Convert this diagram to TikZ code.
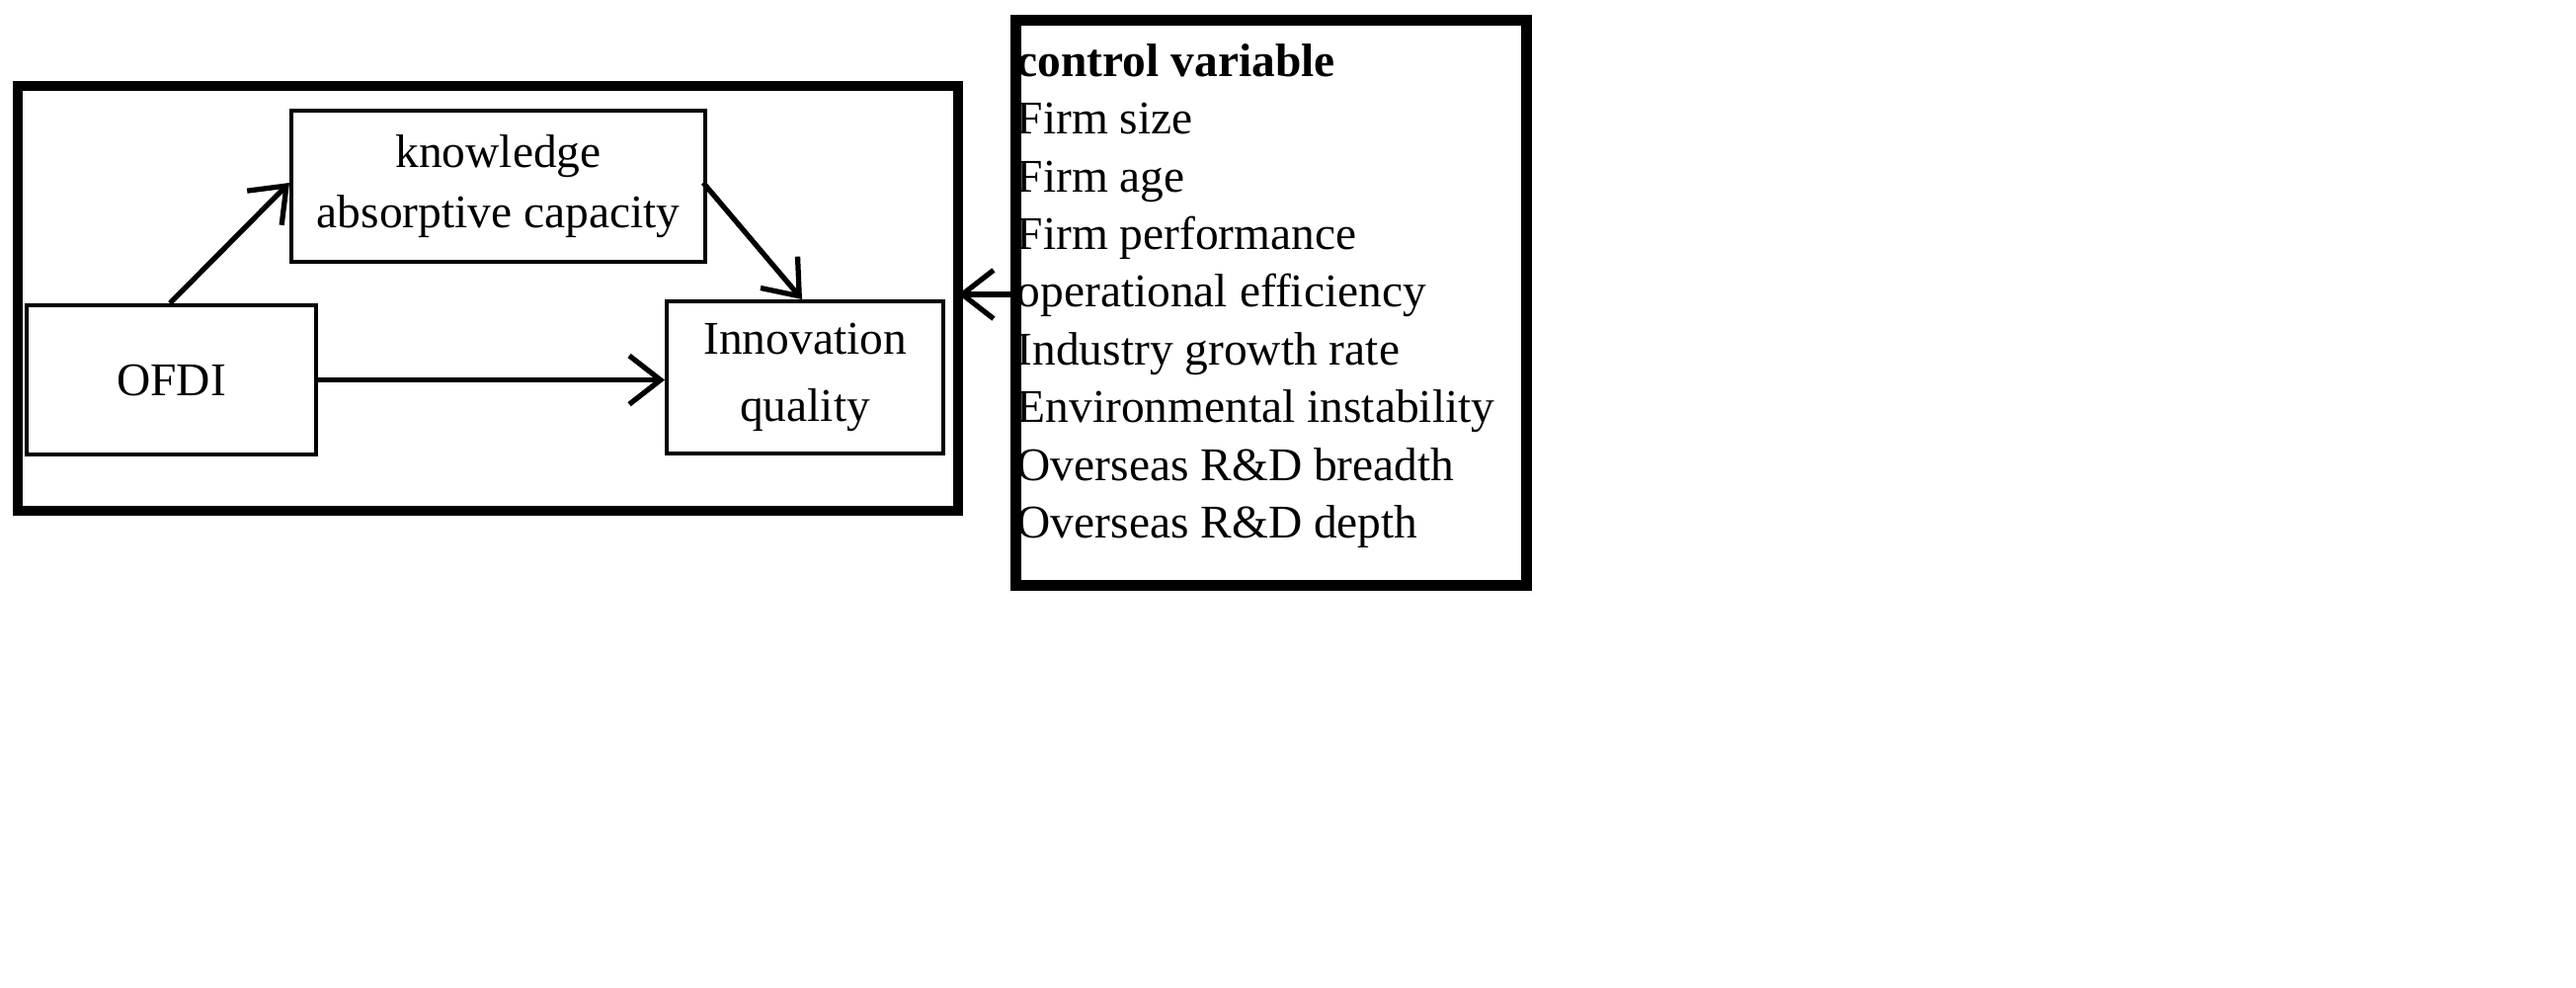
\documentclass[tikz,border=0pt]{standalone}
\usepackage{fontspec}
\setmainfont{Liberation Serif}
\usetikzlibrary{arrows.meta}
\begin{document}
\begin{tikzpicture}[x=1cm,y=-1cm,
  thin box/.style={draw,line width=1.2pt,inner sep=0pt},
  thick box/.style={draw,line width=3pt},
  arr/.style={-{Straight Barb[length=9pt,width=14pt]},line width=1.5pt},
  txt/.style={font=\fontsize{13.5}{15.4}\selectfont,align=center}]
\useasboundingbox (0,0) rectangle (26.08,10);
\draw[thick box] (0.18,0.87) rectangle (9.70,5.17);
\node[thin box,minimum width=4.19cm,minimum height=1.53cm,txt,anchor=north west] (k) at (2.93,1.10) {knowledge\\[2pt]absorptive capacity};
\node[thin box,minimum width=2.93cm,minimum height=1.51cm,txt,anchor=north west] (o) at (0.25,3.07) {OFDI};
\node[thin box,minimum width=2.80cm,minimum height=1.54cm,txt,anchor=north west] (i) at (6.73,3.03) {Innovation\\[4pt]quality};
\node[draw,line width=3pt,minimum width=5.17cm,minimum height=5.72cm,anchor=north west] (c) at (10.23,0.15) {};
\node[anchor=north west,align=left,inner sep=0pt,font=\fontsize{13.5}{16.6}\selectfont] (ct) at (10.29,0.44) {\textbf{control variable}\\Firm size\\Firm age\\Firm performance\\operational efficiency\\Industry growth rate\\Environmental instability\\Overseas R\&D breadth\\Overseas R\&D depth};
\coordinate (o1) at (1.72,3.07);
\coordinate (k1) at (2.93,1.85);
\coordinate (k2) at (7.12,1.85);
\coordinate (i1) at (8.12,3.03);
\coordinate (c1) at (10.23,2.98);
\coordinate (b1) at (9.70,2.98);
\draw[arr] (o1) -- (k1);
\draw[arr] (k2) -- (i1);
\draw[arr] (o.east) -- (i.west |- o.east);
\draw[arr] (c1) -- (b1);
\end{tikzpicture}
\end{document}
